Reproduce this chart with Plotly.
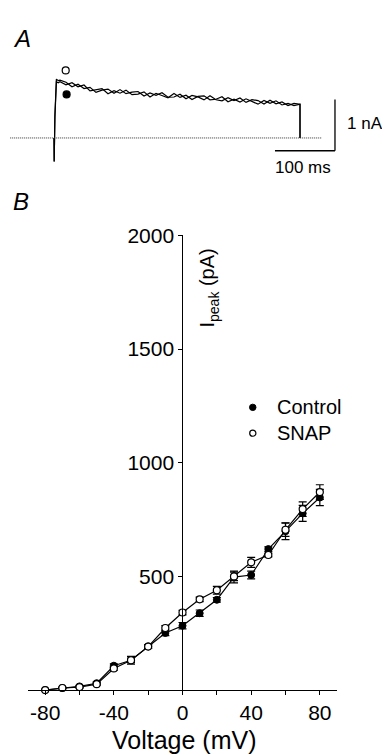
import plotly.graph_objects as go

FONT = "Liberation Sans"

# ---------------- Panel B data (I-V relation) ----------------
voltage = [-80, -70, -60, -50, -40, -30, -20, -10, 0, 10, 20, 30, 40, 50, 60, 70, 80]
control_ipeak = [0, 9, 16, 30, 107, 131, 192, 251, 283, 338, 397, 497, 506, 620, 699, 777, 847]
control_err = [0, 3, 5, 6, 8, 17, 8, 12, 14, 14, 10, 26, 17, 10, 37, 35, 36]
snap_ipeak = [0, 9, 13, 26, 95, 131, 191, 273, 341, 399, 439, 500, 562, 594, 705, 796, 871]
snap_err = [0, 3, 4, 5, 8, 10, 8, 10, 10, 10, 17, 19, 22, 8, 29, 32, 32]

x_tickvals = [-80, -40, 0, 40, 80]
x_ticktext = ["-80", "-40", "0", "40", "80"]
x_minor_tickvals = [-60, -20, 20, 60]
y_tickvals = [500, 1000, 1500, 2000]
y_ticktext = ["500", "1000", "1500", "2000"]

# ---------------- Panel A data (current traces) ----------------
trace_time = [0, 0.3, 1.5, 4, 7,
              10, 20, 30, 40, 50, 60, 70, 80, 90, 100,
              110, 120, 130, 140, 150, 160, 170, 180, 190, 200,
              210, 220, 230, 240, 250, 260, 270, 280, 290, 300,
              310, 320, 330, 340, 350, 360, 370, 380, 390, 400,
              410, 410.01]
control_trace = [0, -0.46, 0.40, 1.10, 1.08,
                 1.10, 1.04, 1.08, 1.00, 1.035, 0.92, 0.95, 0.965, 0.865, 0.925,
                 0.875, 0.935, 0.846, 0.858, 0.90, 0.801, 0.873, 0.834, 0.786, 0.87,
                 0.793, 0.836, 0.75, 0.812, 0.824, 0.745, 0.756, 0.807, 0.708, 0.759,
                 0.702, 0.765, 0.718, 0.661, 0.734, 0.676, 0.726, 0.645, 0.674, 0.634,
                 0.66, 0.0]
snap_trace = [0, -0.46, 0.45, 1.15, 1.12,
              1.13, 1.09, 1.00, 1.05, 0.965, 0.99, 0.89, 0.935, 0.955, 0.875,
              0.945, 0.865, 0.896, 0.908, 0.82, 0.881, 0.833, 0.884, 0.796, 0.80,
              0.853, 0.766, 0.83, 0.802, 0.744, 0.825, 0.746, 0.727, 0.788, 0.729,
              0.782, 0.695, 0.748, 0.731, 0.664, 0.736, 0.666, 0.705, 0.634, 0.674,
              0.66, 0.0]
peak_marker_time = [19.5, 21]
peak_marker_current = [1.32, 0.85]
scale_time_ms = 100
scale_current_nA = 1

W, H = 382, 754


def px(x):
    return x / W


def py(y):
    return 1 - y / H


fig = go.Figure()

# Panel B traces
fig.add_trace(go.Scatter(
    x=voltage, y=control_ipeak, mode="lines+markers", cliponaxis=False,
    line=dict(color="black", width=1.2),
    marker=dict(symbol="circle", size=7, color="black", line=dict(color="black", width=1)),
    error_y=dict(type="data", array=control_err, visible=True, color="black", thickness=1.2, width=4),
    xaxis="x", yaxis="y", name="Control"))
fig.add_trace(go.Scatter(
    x=voltage, y=snap_ipeak, mode="lines+markers", cliponaxis=False,
    line=dict(color="black", width=1.2),
    marker=dict(symbol="circle", size=7, color="white", line=dict(color="black", width=1.2)),
    error_y=dict(type="data", array=snap_err, visible=True, color="black", thickness=1.2, width=4),
    xaxis="x", yaxis="y", name="SNAP"))

# Panel A traces
fig.add_trace(go.Scatter(x=trace_time, y=control_trace, mode="lines",
                         line=dict(color="black", width=1.2), xaxis="x2", yaxis="y2"))
fig.add_trace(go.Scatter(x=trace_time, y=snap_trace, mode="lines",
                         line=dict(color="black", width=1.2), xaxis="x2", yaxis="y2"))
fig.add_trace(go.Scatter(x=peak_marker_time, y=peak_marker_current, mode="markers",
                         marker=dict(size=7, color=["white", "black"],
                                     line=dict(color="black", width=1.2)),
                         xaxis="x2", yaxis="y2", cliponaxis=False))

# Axes
a_bot_px, a_zero_px, a_px_per_nA = 200, 128, 52
a_t0_px, a_px_per_ms = 54, 0.6
fig.update_layout(
    width=W, height=H, margin=dict(l=0, r=0, t=0, b=0, pad=0),
    paper_bgcolor="white", plot_bgcolor="rgba(0,0,0,0)", showlegend=False,
    font=dict(family=FONT, color="black", size=20),
    xaxis=dict(domain=[px(28), px(337)], range=[-90, 90], anchor="y",
               showline=True, linecolor="black", linewidth=1, ticks="outside",
               ticklen=4, tickwidth=1, tickcolor="black",
               tickvals=x_tickvals, ticktext=x_ticktext,
               minor=dict(tickvals=x_minor_tickvals, ticks="outside", ticklen=4,
                          tickwidth=1, tickcolor="black", showgrid=False),
               tickfont=dict(size=21, family=FONT, color="black"),
               showgrid=False, zeroline=False),
    yaxis=dict(domain=[py(689), py(227)], range=[0, 2000], anchor="free",
               position=px(182.3), showline=True, linecolor="black", linewidth=1,
               ticks="outside", ticklen=4, tickwidth=1, tickcolor="black",
               tickvals=y_tickvals, ticktext=y_ticktext,
               tickfont=dict(size=21, family=FONT, color="black"),
               showgrid=False, zeroline=False),
    xaxis2=dict(domain=[0, 1], anchor="y2", visible=False,
                range=[-a_t0_px / a_px_per_ms, (W - a_t0_px) / a_px_per_ms]),
    yaxis2=dict(domain=[py(a_bot_px), 1], anchor="x2", visible=False,
                range=[-(a_bot_px - a_zero_px) / a_px_per_nA, a_zero_px / a_px_per_nA]),
)

# Scale bars and baseline in panel A
bar_t_end = 468.3
bar_y = -0.25
shapes = [
    dict(type="line", xref="x2", yref="y2", x0=-73, x1=447, y0=0, y1=0,
         line=dict(color="#333333", width=1, dash="1px,1px")),
    dict(type="line", xref="x2", yref="y2", x0=bar_t_end - scale_time_ms, x1=bar_t_end,
         y0=bar_y, y1=bar_y, line=dict(color="black", width=1.3)),
    dict(type="line", xref="x2", yref="y2", x0=bar_t_end, x1=bar_t_end,
         y0=bar_y, y1=bar_y + scale_current_nA, line=dict(color="black", width=1.3)),
    # legend symbols
    dict(type="circle", xref="paper", yref="paper",
         x0=px(249.5), x1=px(256), y0=py(405), y1=py(398.5),
         fillcolor="black", line=dict(color="black", width=1)),
    dict(type="circle", xref="paper", yref="paper",
         x0=px(249.7), x1=px(255.9), y0=py(431.1), y1=py(424.9),
         fillcolor="white", line=dict(color="black", width=1.2)),
]
fig.update_layout(shapes=shapes)

ann = [
    dict(text="<i>A</i>", x=px(22), y=py(27), font=dict(size=24)),
    dict(text="<i>B</i>", x=px(21), y=py(193), font=dict(size=24)),
    dict(text="1 nA", x=px(345), y=py(113), xanchor="left", font=dict(size=17)),
    dict(text="100 ms", x=px(303), y=py(158), font=dict(size=17)),
    dict(text="Voltage (mV)", x=px(184), y=py(740), font=dict(size=25)),
    dict(text="I<sub>peak</sub> (pA)", x=px(209), y=py(281), textangle=-90,
         font=dict(size=20)),
    dict(text="Control", x=px(275), y=py(401.5), xanchor="left", font=dict(size=20)),
    dict(text="SNAP", x=px(275), y=py(428), xanchor="left", font=dict(size=20)),
]
for a in ann:
    a.setdefault("xanchor", "center")
    a.update(xref="paper", yref="paper", yanchor="middle", showarrow=False)
    a["font"] = dict(family=FONT, color="black", **a["font"])
fig.update_layout(annotations=ann)

fig.write_html("out.html")
